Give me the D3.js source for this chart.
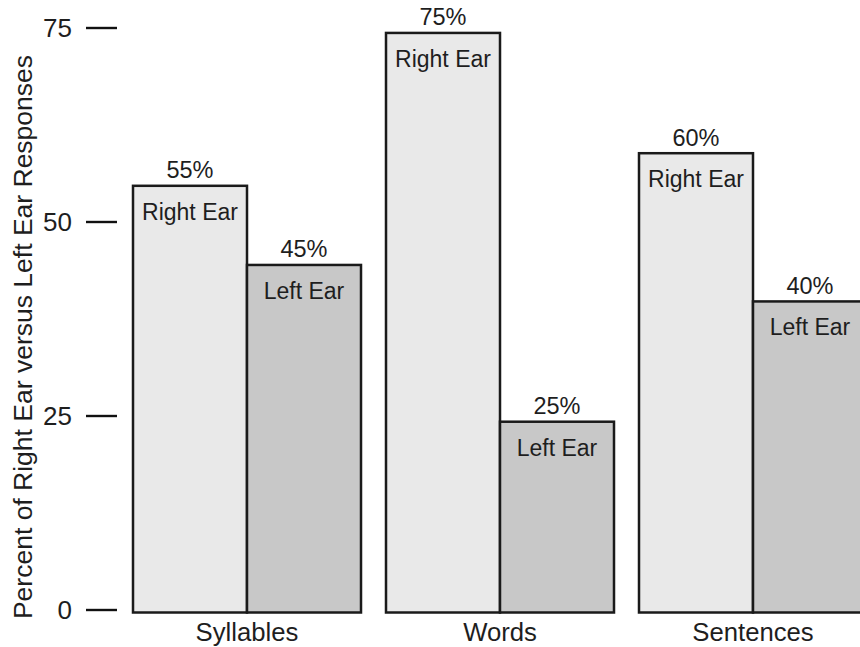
<!DOCTYPE html>
<html>
<head>
<meta charset="utf-8">
<script src="https://cdn.jsdelivr.net/npm/d3@7"></script>
<style>
  html, body { margin: 0; padding: 0; background: #fff; }
  svg { display: block; font-family: "Liberation Sans", Arial, Helvetica, sans-serif; }
</style>
</head>
<body>
<svg id="chart" width="860" height="647"></svg>
<script>
// ---- data ----
const categories = ["Syllables", "Words", "Sentences"];
const seriesNames = ["Right Ear", "Left Ear"];
// bar heights as drawn (percent)
const rightEarValues = [54.6, 74.3, 58.8];
const leftEarValues = [44.4, 24.2, 39.7];
// printed value labels
const rightEarLabels = ["55%", "75%", "60%"];
const leftEarLabels = ["45%", "25%", "40%"];
const tickValues = [0, 25, 50, 75];
const yTitle = "Percent of Right Ear versus Left Ear Responses";
const seriesColors = ["#e9e9e9", "#c8c8c8"];

const rows = [];
categories.forEach((c, i) => {
  rows.push({ cat: c, series: seriesNames[0], value: rightEarValues[i], label: rightEarLabels[i] });
  rows.push({ cat: c, series: seriesNames[1], value: leftEarValues[i], label: leftEarLabels[i] });
});

const svg = d3.select("#chart");

const x0 = d3.scaleBand().domain(categories).range([133, 867]).paddingInner(25 / 253).paddingOuter(0);
const x1 = d3.scaleBand().domain(seriesNames).range([0, x0.bandwidth()]).padding(0);
const y = d3.scaleLinear().domain([0, 75]).range([609.5, 27.5]);
const color = d3.scaleOrdinal().domain(seriesNames).range(seriesColors);
const baseOffset = 3;

// y axis ticks (no domain line)
const yAxis = d3.axisLeft(y).tickValues(tickValues).tickSize(31).tickPadding(14);
const gy = svg.append("g").attr("transform", "translate(117,0)").call(yAxis);
gy.select(".domain").remove();
gy.selectAll(".tick line").attr("stroke", "#111").attr("stroke-width", 2.4);
gy.selectAll(".tick text")
  .attr("font-size", 26)
  .attr("fill", "#1e1e1e")
  .attr("font-family", "'Liberation Sans', Arial, sans-serif")
  .attr("dy", "0.34em");

// y title
svg.append("text")
  .attr("transform", `translate(32,337) rotate(-90)`)
  .attr("text-anchor", "middle")
  .attr("font-size", 26.5)
  .attr("fill", "#1e1e1e")
  .text(yTitle);

// bars
const groups = svg.append("g").selectAll("g")
  .data(rows).join("g")
  .attr("transform", d => `translate(${x0(d.cat) + x1(d.series)},0)`);

groups.append("rect")
  .attr("x", 0)
  .attr("y", d => y(d.value))
  .attr("width", x1.bandwidth())
  .attr("height", d => y(0) + baseOffset - y(d.value))
  .attr("fill", d => color(d.series))
  .attr("stroke", "#1a1a1a")
  .attr("stroke-width", 2.5);

groups.append("text")
  .attr("x", x1.bandwidth() / 2)
  .attr("y", d => y(d.value) - 7.5)
  .attr("text-anchor", "middle")
  .attr("font-size", 23.5)
  .attr("fill", "#1e1e1e")
  .text(d => d.label);

groups.append("text")
  .attr("x", x1.bandwidth() / 2)
  .attr("y", d => y(d.value) + 34)
  .attr("text-anchor", "middle")
  .attr("font-size", 23)
  .attr("fill", "#1e1e1e")
  .text(d => d.series);

// category labels
const xAxis = d3.axisBottom(x0).tickSize(0).tickPadding(0);
const gx = svg.append("g").attr("transform", `translate(0,${y(0) + baseOffset})`).call(xAxis);
gx.select(".domain").remove();
gx.selectAll(".tick text")
  .attr("font-size", 25.7)
  .attr("fill", "#1e1e1e")
  .attr("font-family", "'Liberation Sans', Arial, sans-serif")
  .attr("dy", null)
  .attr("y", 28.5);
</script>
</body>
</html>
